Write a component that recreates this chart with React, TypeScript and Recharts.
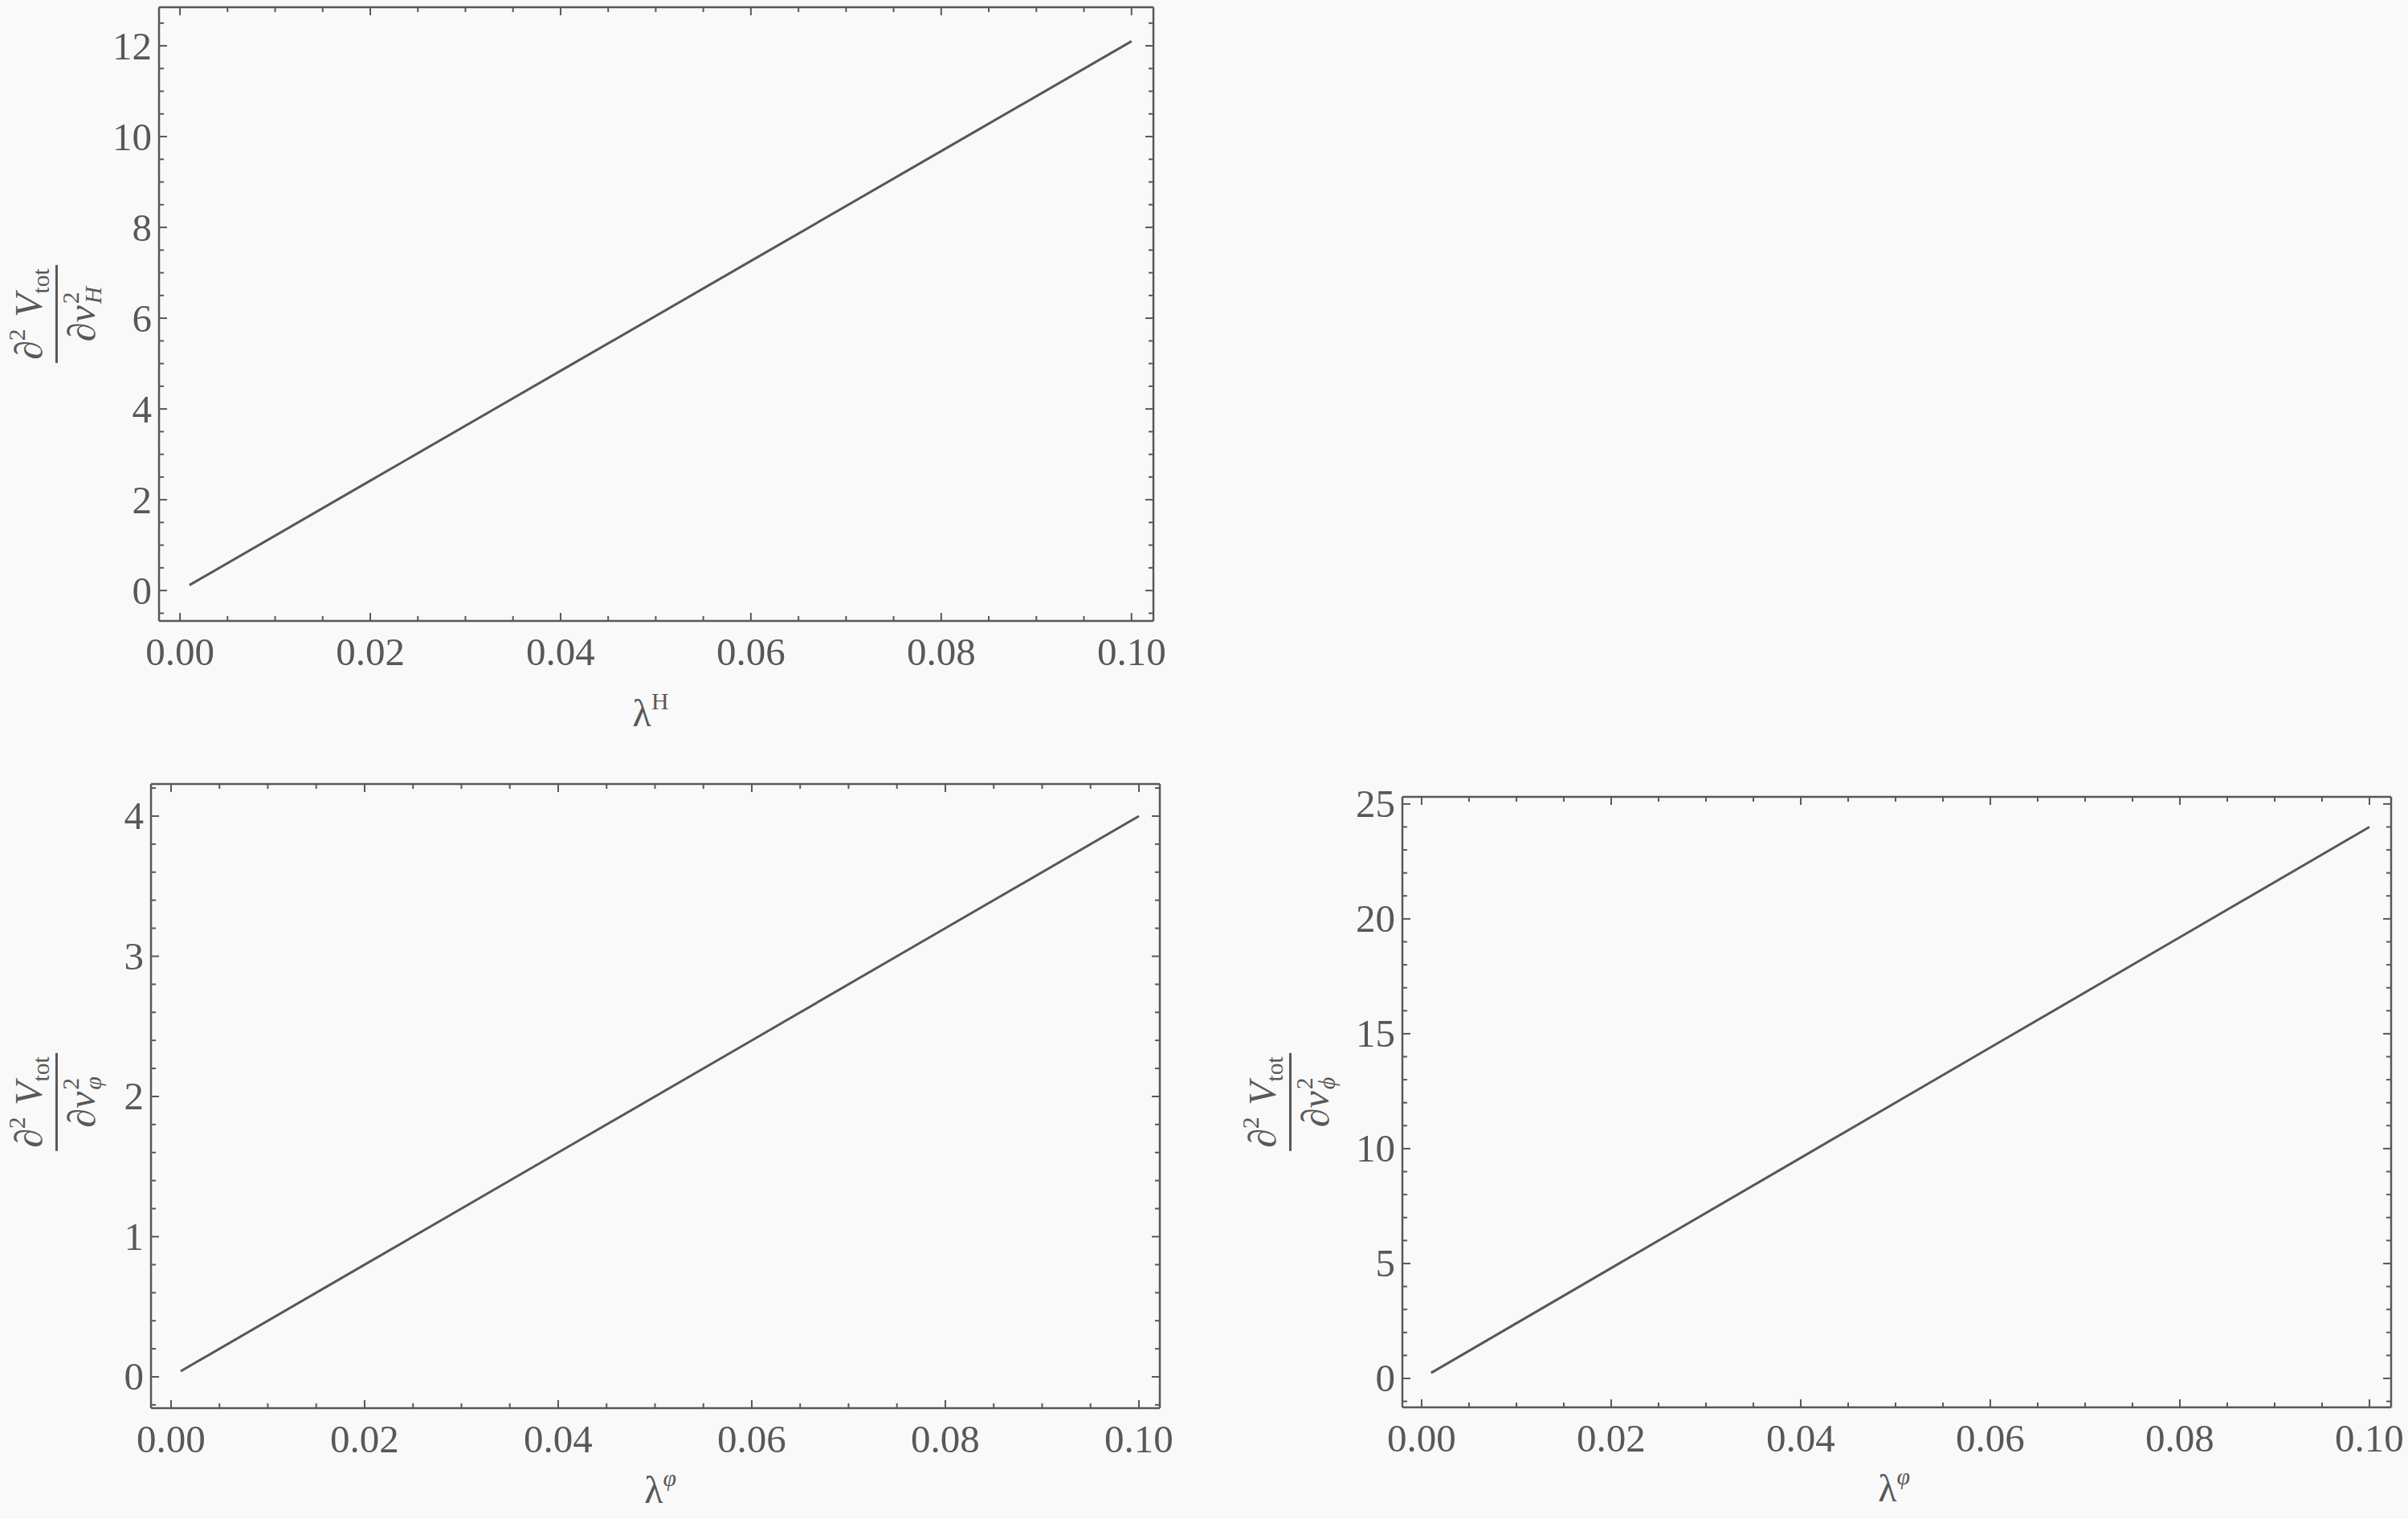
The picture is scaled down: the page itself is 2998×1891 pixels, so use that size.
import React from "react";
import { LineChart, Line, XAxis, YAxis } from "recharts";

// values
const lambdaH = [0.001, 0.02, 0.04, 0.06, 0.08, 0.1];
const d2VdvH = [0.12, 2.42, 4.84, 7.26, 9.68, 12.1];

const lambdaVarphi = [0.001, 0.02, 0.04, 0.06, 0.08, 0.1];
const d2VdvVarphi = [0.04, 0.8, 1.6, 2.4, 3.2, 4.0];

const lambdaPhi = [0.001, 0.02, 0.04, 0.06, 0.08, 0.1];
const d2VdvPhi = [0.24, 4.8, 9.6, 14.4, 19.2, 24.0];

// ticks
const xMajor = [0, 0.02, 0.04, 0.06, 0.08, 0.1];
const xMinor = [0.005, 0.01, 0.015, 0.025, 0.03, 0.035, 0.045, 0.05, 0.055, 0.065, 0.07, 0.075, 0.085, 0.09, 0.095];
const yMajorH = [0, 2, 4, 6, 8, 10, 12];
const yMajorVarphi = [0, 1, 2, 3, 4];
const yMajorPhi = [0, 5, 10, 15, 20, 25];

const steps = (from: number, to: number, step: number, skip: number[]) => {
  const out: number[] = [];
  for (let v = from; v <= to + 1e-9; v += step) {
    const r = Math.round(v * 1000) / 1000;
    if (!skip.some((s) => Math.abs(s - r) < 1e-9)) out.push(r);
  }
  return out;
};
const yMinorH = steps(-0.5, 12.5, 0.5, yMajorH);
const yMinorVarphi = steps(-0.2, 4.2, 0.2, yMajorVarphi);
const yMinorPhi = steps(-1, 25, 1, yMajorPhi);

const INK = "#585858";
const BG = "#f9f9f9";
const SERIF = '"Liberation Serif", "Times New Roman", serif';

const isIn = (list: number[], v: number) => list.some((m) => Math.abs(m - v) < 1e-9);
const fmtX = (v: number) => v.toFixed(2);
const fmtY = (v: number) => String(v);

type Side = "bottom" | "top" | "left" | "right";

function makeTick(side: Side, major: number[], fmt?: (v: number) => string) {
  return (p: any) => {
    const v = p.payload.value;
    const big = isIn(major, v);
    const len = big ? 10 : 6;
    const x = p.x;
    const y = p.y;
    let seg: [number, number, number, number];
    if (side === "bottom") seg = [x, y, x, y - len];
    else if (side === "top") seg = [x, y, x, y + len];
    else if (side === "left") seg = [x, y, x + len, y];
    else seg = [x, y, x - len, y];
    return (
      <g>
        <line x1={seg[0]} y1={seg[1]} x2={seg[2]} y2={seg[3]} stroke={INK} strokeWidth={2} />
        {fmt && big && side === "bottom" && (
          <text x={x} y={y + 38} textAnchor="middle" dominantBaseline="central"
            fontFamily={SERIF} fontSize={49} fill={INK}>{fmt(v)}</text>
        )}
        {fmt && big && side === "left" && (
          <text x={x - 9} y={y} textAnchor="end" dominantBaseline="central"
            fontFamily={SERIF} fontSize={49} fill={INK}>{fmt(v)}</text>
        )}
      </g>
    );
  };
}

type PanelProps = {
  frame: [number, number, number, number];
  xDomain: [number, number];
  yDomain: [number, number];
  xs: number[];
  ys: number[];
  yMajor: number[];
  yMinor: number[];
};

function Panel({ frame, xDomain, yDomain, xs, ys, yMajor, yMinor }: PanelProps) {
  const [L, T, R, B] = frame;
  const padL = 200, padT = 40, padR = 40, padB = 80, ax = 20;
  const data = xs.map((x, i) => ({ x, y: ys[i] }));
  const xTicks = [...xMajor, ...xMinor];
  const yTicks = [...yMajor, ...yMinor];
  const frameLine = { stroke: INK, strokeWidth: 2.5 };
  return (
    <div style={{ position: "absolute", left: L - padL, top: T - padT }}>
      <LineChart
        width={R - L + padL + padR}
        height={B - T + padT + padB}
        data={data}
        margin={{ left: padL - ax, top: padT - ax, right: padR - ax, bottom: padB - ax }}
      >
        <XAxis xAxisId="b" dataKey="x" type="number" domain={xDomain} allowDataOverflow
          ticks={xTicks} interval={0} height={ax} tickSize={0} tickMargin={0}
          tickLine={false} axisLine={frameLine} tick={makeTick("bottom", xMajor, fmtX)} />
        <XAxis xAxisId="t" orientation="top" dataKey="x" type="number" domain={xDomain} allowDataOverflow
          ticks={xTicks} interval={0} height={ax} tickSize={0} tickMargin={0}
          tickLine={false} axisLine={frameLine} tick={makeTick("top", xMajor)} />
        <YAxis yAxisId="l" type="number" domain={yDomain} allowDataOverflow
          ticks={yTicks} interval={0} width={ax} tickSize={0} tickMargin={0}
          tickLine={false} axisLine={frameLine} tick={makeTick("left", yMajor, fmtY)} />
        <YAxis yAxisId="r" orientation="right" type="number" domain={yDomain} allowDataOverflow
          ticks={yTicks} interval={0} width={ax} tickSize={0} tickMargin={0}
          tickLine={false} axisLine={frameLine} tick={makeTick("right", yMajor)} />
        <Line xAxisId="b" yAxisId="l" type="linear" dataKey="y" stroke={INK} strokeWidth={3}
          dot={false} activeDot={false} isAnimationActive={false} />
      </LineChart>
    </div>
  );
}

function DerivLabel({ cx, cy, sub }: { cx: number; cy: number; sub: string }) {
  return (
    <div style={{
      position: "absolute", left: cx, top: cy,
      transform: "translate(-50%,-50%) rotate(-90deg)",
      fontFamily: SERIF, fontSize: 48, color: INK, lineHeight: 1, whiteSpace: "nowrap",
      display: "flex", flexDirection: "column", alignItems: "center",
    }}>
      <div style={{ padding: "0 4px 3px" }}>
        ∂<span style={{ fontSize: "0.62em", verticalAlign: "0.7em" }}>2</span>
        <span style={{ marginLeft: "0.3em", fontStyle: "italic" }}>V</span>
        <span style={{ fontSize: "0.62em", verticalAlign: "-0.3em" }}>tot</span>
      </div>
      <div style={{ alignSelf: "stretch", borderTop: `3px solid ${INK}` }} />
      <div style={{ paddingTop: 2, display: "flex", alignItems: "center" }}>
        ∂<i>v</i>
        <span style={{
          display: "inline-flex", flexDirection: "column", fontSize: "0.62em",
          lineHeight: 0.95, marginLeft: 2,
        }}>
          <span>2</span>
          <span style={{ fontStyle: "italic" }}>{sub}</span>
        </span>
      </div>
    </div>
  );
}

function LambdaLabel({ cx, cy, sup, italic }: { cx: number; cy: number; sup: string; italic?: boolean }) {
  return (
    <div style={{
      position: "absolute", left: cx, top: cy, transform: "translate(-50%,-50%)",
      fontFamily: SERIF, fontSize: 48, color: INK, lineHeight: 1, whiteSpace: "nowrap",
    }}>
      λ<span style={{ fontSize: "0.62em", verticalAlign: "0.7em", fontStyle: italic ? "italic" : "normal" }}>{sup}</span>
    </div>
  );
}

export default function App() {
  return (
    <div style={{ position: "fixed", left: 0, top: 0, width: 2998, height: 1891, background: BG, overflow: "hidden" }}>
      <Panel frame={[198, 9, 1436, 773]} xDomain={[-0.0022, 0.1023]} yDomain={[-0.67, 12.85]}
        xs={lambdaH} ys={d2VdvH} yMajor={yMajorH} yMinor={yMinorH} />
      <Panel frame={[188, 976, 1444, 1753]} xDomain={[-0.00207, 0.10216]} yDomain={[-0.2235, 4.229]}
        xs={lambdaVarphi} ys={d2VdvVarphi} yMajor={yMajorVarphi} yMinor={yMinorVarphi} />
      <Panel frame={[1746, 992, 2977, 1752]} xDomain={[-0.00203, 0.10229]} yDomain={[-1.26, 25.31]}
        xs={lambdaPhi} ys={d2VdvPhi} yMajor={yMajorPhi} yMinor={yMinorPhi} />

      <DerivLabel cx={68} cy={391} sub="H" />
      <DerivLabel cx={68} cy={1372} sub="φ" />
      <DerivLabel cx={1604} cy={1372} sub="ϕ" />

      <LambdaLabel cx={810} cy={885} sup="H" />
      <LambdaLabel cx={822} cy={1852} sup="φ" italic />
      <LambdaLabel cx={2358} cy={1850} sup="φ" italic />
    </div>
  );
}
